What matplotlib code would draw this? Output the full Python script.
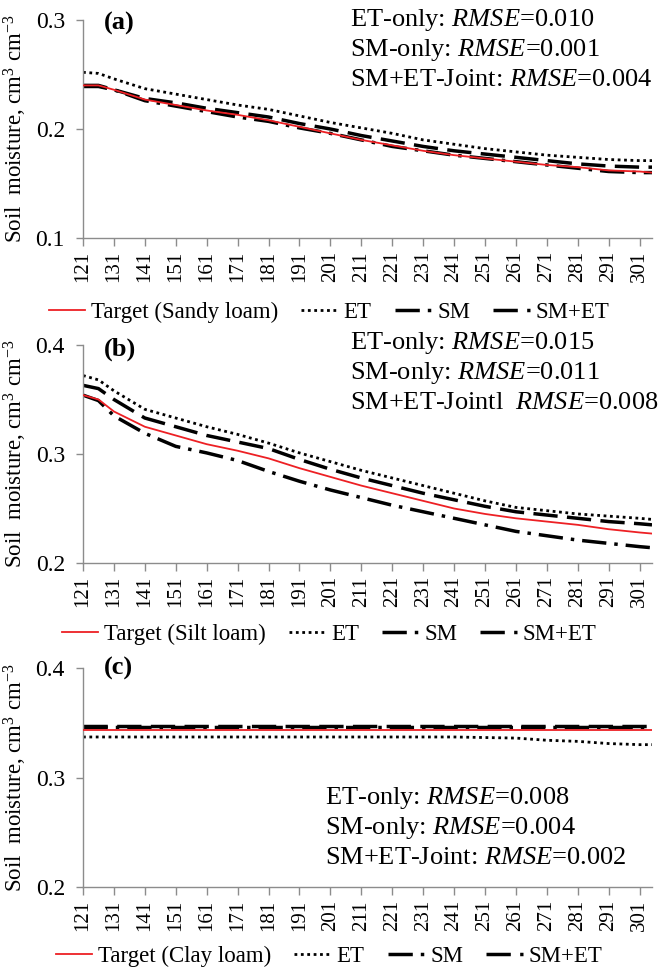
import matplotlib
matplotlib.use("Agg")
import matplotlib.pyplot as plt
from matplotlib.ticker import FormatStrFormatter

plt.rcParams["font.family"] = ["Liberation Serif", "DejaVu Serif"]
plt.rcParams["mathtext.fontset"] = "custom"
plt.rcParams["mathtext.rm"] = "Liberation Serif"
plt.rcParams["mathtext.it"] = "Liberation Serif:italic"

# ---- data (day of year, soil moisture cm3/cm3) ----
days = [121, 126, 131, 141, 151, 161, 171, 181, 191, 201, 211,
        221, 231, 241, 251, 261, 271, 281, 291, 301, 305]

a_target = [.240, .240, .236, .227, .222, .217, .213, .208, .202, .196, .190,
            .185, .180, .176, .173, .170, .167, .165, .162, .161, .160]
a_et = [.252, .251, .246, .237, .232, .227, .222, .218, .212, .206, .201,
        .196, .190, .186, .182, .179, .176, .174, .172, .171, .171]
a_sm = [.239, .239, .236, .226, .221, .216, .211, .207, .201, .196, .190,
        .184, .180, .176, .173, .170, .167, .164, .161, .160, .160]
a_smet = [.240, .240, .236, .228, .224, .219, .215, .211, .205, .200, .194,
          .189, .184, .180, .177, .174, .171, .168, .166, .165, .165]

b_target = [.354, .350, .339, .325, .317, .309, .303, .296, .287, .279, .271,
            .264, .257, .250, .245, .241, .238, .235, .231, .228, .227]
b_et = [.372, .368, .358, .341, .333, .325, .318, .310, .301, .293, .285,
        .278, .271, .264, .257, .251, .248, .245, .243, .241, .240]
b_sm = [.354, .349, .335, .319, .307, .301, .294, .284, .275, .267, .260,
        .253, .247, .241, .235, .229, .225, .221, .218, .215, .214]
b_smet = [.363, .360, .350, .333, .325, .317, .311, .305, .295, .286, .278,
          .271, .264, .258, .252, .247, .244, .241, .238, .236, .235]

c_target = [.3435] * 21
c_et = [.337, .337, .337, .337, .337, .337, .337, .337, .337, .337, .337,
        .337, .337, .337, .3365, .336, .334, .333, .331, .330, .330]
c_sm = [.3462] * 21
c_smet = [.3472] * 21

soils = ["Sandy loam", "Silt loam", "Clay loam"]
panel_tags = ["(a)", "(b)", "(c)"]
rmse_text = [
    ["ET-only: $\\mathit{RMSE}$=0.010", "SM-only: $\\mathit{RMSE}$=0.001",
     "SM+ET-Joint: $\\mathit{RMSE}$=0.004"],
    ["ET-only: $\\mathit{RMSE}$=0.015", "SM-only: $\\mathit{RMSE}$=0.011",
     "SM+ET-Jointl  $\\mathit{RMSE}$=0.008"],
    ["ET-only: $\\mathit{RMSE}$=0.008", "SM-only: $\\mathit{RMSE}$=0.004",
     "SM+ET-Joint: $\\mathit{RMSE}$=0.002"],
]
yticks = [[0.1, 0.2, 0.3], [0.2, 0.3, 0.4], [0.2, 0.3, 0.4]]
xtick_days = list(range(121, 302, 10))

series = [(a_target, a_et, a_sm, a_smet),
          (b_target, b_et, b_sm, b_smet),
          (c_target, c_et, c_sm, c_smet)]

# ---- layout (pixels of a 662x973 canvas) ----
W, H = 662, 973
fig = plt.figure(figsize=(W / 100, H / 100), dpi=100)

RED = "#ed2024"
AXC = "#8c8c8c"
ax_top_bot = [(20, 238), (345, 563), (668, 887)]
legend_y = [312, 634, 956]
tag_y = [23, 349, 668]
rmse_pos = [(350, [20, 50, 80]), (350, [343, 373, 403]), (325, [798, 828, 858])]

for i in range(3):
    top, bot = ax_top_bot[i]
    ax = fig.add_axes([83 / W, 1 - bot / H, (652 - 83) / W, (bot - top) / H])
    tgt, et, sm, smet = series[i]

    ax.plot(days, tgt, color=RED, lw=1.3, label=f"Target ({soils[i]})", zorder=3)
    ax.plot(days, et, color="black", lw=2.0, linestyle=(0, (1, 1.3)), label="ET")
    ax.plot(days, sm, color="black", lw=2.5, linestyle=(0, (7, 2.3, 1, 2.3)), label="SM")
    ax.plot(days, smet, color="black", lw=2.5, linestyle=(0, (7, 2.7)), label="SM+ET")

    ax.set_xlim(121, 305)
    ax.set_ylim(yticks[i][0], yticks[i][-1])
    ax.set_yticks(yticks[i])
    ax.yaxis.set_major_formatter(FormatStrFormatter("%.1f"))
    ax.set_xticks(xtick_days)
    ax.set_xticklabels([str(d) for d in xtick_days], rotation=90)

    for s in ("top", "right"):
        ax.spines[s].set_visible(False)
    for s in ("left", "bottom"):
        ax.spines[s].set_color(AXC)
        ax.spines[s].set_linewidth(1.0)
    ax.tick_params(axis="y", colors=AXC, labelcolor="black", labelsize=17,
                   length=5, width=1.0, pad=8)
    ax.tick_params(axis="x", colors=AXC, labelcolor="black", labelsize=15,
                   length=5.5, width=1.0, pad=4)

    ax.set_ylabel("Soil  moisture, cm$^{3}$ cm$^{-3}$", fontsize=16.5)
    ax.yaxis.set_label_coords((29 - 83) / 569, 0.5)

    ax.text((104 - 83) / 569, (bot - tag_y[i]) / (bot - top), panel_tags[i],
            transform=ax.transAxes, fontsize=19, fontweight="bold",
            ha="left", va="center")

    x0, ys = rmse_pos[i]
    for txt, yy in zip(rmse_text[i], ys):
        fig.text(x0 / W, 1 - yy / H, txt, fontsize=19, ha="left", va="center")

    ax.legend(loc="center", bbox_to_anchor=(329 / W, 1 - legend_y[i] / H),
              bbox_transform=fig.transFigure, ncol=4, frameon=False,
              fontsize=16.5, handlelength=1.6, handletextpad=0.25,
              columnspacing=1.0, borderpad=0, borderaxespad=0)

fig.savefig("out.png", dpi=100)
